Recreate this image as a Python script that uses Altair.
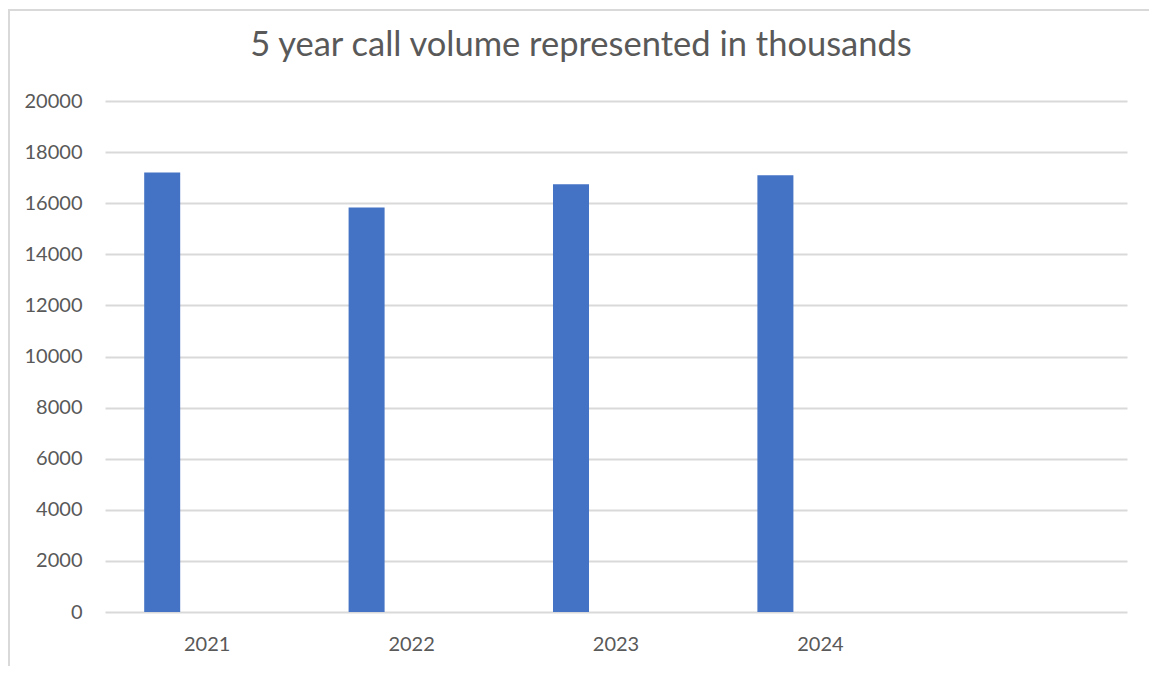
import altair as alt
import pandas as pd

title_text = "5 year call volume represented in thousands"
years = ["2021", "2022", "2023", "2024"]
domain = ["2021", "2022", "2023", "2024", ""]
volumes = [17200, 15830, 16740, 17090]
y_ticks = [0, 2000, 4000, 6000, 8000, 10000, 12000, 14000, 16000, 18000, 20000]

df = pd.DataFrame({"year": years, "volume": volumes})

FONT = "Lato"
LABEL = "#595959"

bars = alt.Chart(df).mark_bar(width=36, xOffset=-45, color="#4472C4").encode(
    x=alt.X("year:N", scale=alt.Scale(domain=domain, paddingInner=0, paddingOuter=0),
            axis=alt.Axis(title=None, labelAngle=0, ticks=False, domain=False,
                          grid=False, labelFontSize=20, labelColor=LABEL,
                          labelFont=FONT, labelPadding=22)),
    y=alt.Y("volume:Q", scale=alt.Scale(domain=[0, 20000], nice=False),
            axis=alt.Axis(title=None, values=y_ticks, ticks=False, domain=False,
                          grid=True, gridColor="#d9d9d9", gridWidth=2,
                          labelFontSize=20, labelColor=LABEL, labelFont=FONT,
                          labelPadding=23, format="d")),
)

frame = alt.Chart(pd.DataFrame({"k": [0]})).mark_rect(
    fill=None, stroke="#d9d9d9", strokeWidth=2, clip=False
).encode(
    x=alt.value(-96), x2=alt.value(1050), y=alt.value(-91), y2=alt.value(620)
)

title = alt.Chart(pd.DataFrame({"t": [title_text]})).mark_text(
    font=FONT, fontSize=34.5, color=LABEL, align="center", baseline="alphabetic",
    clip=False
).encode(x=alt.value(476), y=alt.value(-45), text="t:N")

chart = alt.layer(frame, bars, title).properties(
    width=1022,
    height=511,
    padding={"left": 97, "top": 93, "right": 22, "bottom": 54},
    autosize=alt.AutoSizeParams(type="none"),
).configure(background="white", view=alt.ViewConfig(stroke=None))

chart.save("out.html", embed_options={"renderer": "svg", "actions": False})
